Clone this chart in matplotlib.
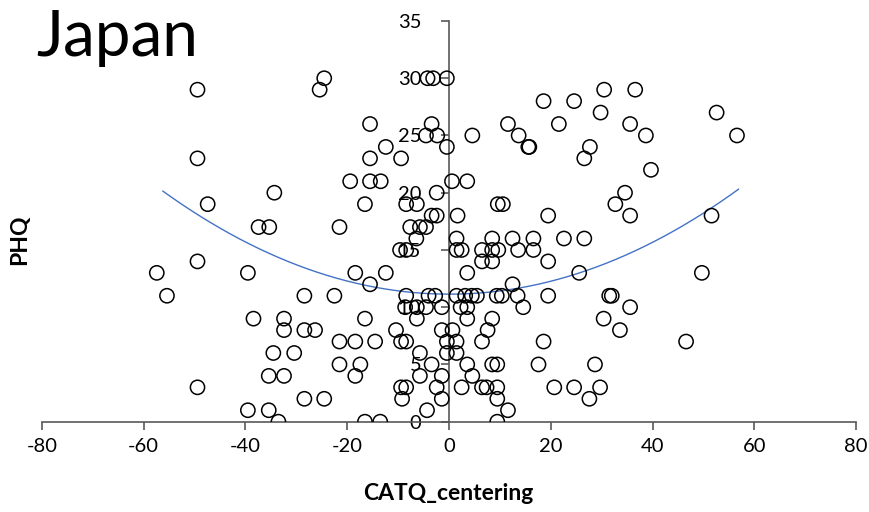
import matplotlib.pyplot as plt
import numpy as np

# CATQ_centering (x) and PHQ (y) values
catq = np.array([
    -57.4, -55.4, -49.4, -49.4, -49.4, -49.4, -47.4, -39.5, -39.5, -38.4,
    -37.4, -35.3, -35.4, -35.4, -34.5, -34.3, -33.5, -32.4, -32.4, -32.4,
    -30.4, -28.4, -28.4, -28.4, -26.3, -25.4, -24.5, -24.5, -22.5, -21.5,
    -21.5, -21.5, -19.4, -18.4, -18.4, -18.4, -17.4, -16.5, -16.5, -16.5,
    -15.5, -15.5, -15.5, -15.5, -14.5, -13.5, -13.4, -12.4, -12.4, -10.4,
    -9.6, -9.4, -9.4, -9.4, -9.2, -8.6, -8.4, -8.4, -8.4, -8.4,
    -8.4, -7.6, -6.4, -6.3, -6.3, -6.3, -5.7, -5.7, -5.7, -4.5,
    -4.5, -4.5, -4.3, -4.2, -4.0, -3.4, -3.4, -3.4, -3.1, -2.7,
    -2.4, -2.4, -2.3, -2.4, -1.4, -1.4, -1.4, -1.4, -0.4, -0.4,
    -0.4, -0.4,
    0.6, 0.7, 1.5, 1.5, 1.5, 1.5, 1.5, 1.7, 2.3, 2.5,
    2.5, 3.2, 3.6, 3.6, 3.6, 3.6, 3.6, 4.5, 4.6, 4.6,
    5.5, 6.5, 6.5, 6.5, 6.5, 7.4, 7.6, 8.5, 8.5, 8.5,
    8.5, 8.5, 9.4, 9.5, 9.5, 9.5, 9.5, 9.6, 9.7, 10.4,
    10.6, 11.6, 11.6, 12.5, 12.5, 13.5, 13.6, 13.7, 14.6, 15.6,
    15.8, 16.6, 16.6, 17.6, 18.6, 18.6, 19.5, 19.5, 19.5, 20.7,
    21.6, 22.6, 24.6, 24.6, 25.6, 26.6, 26.6, 27.6, 27.7, 28.7,
    29.7, 29.8, 30.4, 30.5, 31.5, 32.0, 32.7, 33.6, 34.6, 35.6,
    35.6, 35.6, 36.6, 38.7, 39.7, 46.6, 49.7, 51.6, 52.6, 56.6,
])
phq = np.array([
    13, 11, 29, 23, 14, 3, 19, 13, 1, 9,
    17, 17, 4, 1, 6, 20, 0, 9, 8, 4,
    6, 11, 8, 2, 8, 29, 30, 2, 11, 17,
    7, 5, 21, 13, 7, 4, 5, 19, 9, 0,
    26, 23, 21, 12, 7, 0, 21, 24, 13, 8,
    15, 23, 7, 3, 2, 10, 19, 15, 11, 7,
    3, 17, 16, 19, 10, 9, 17, 6, 4, 25,
    17, 10, 1, 30, 11, 26, 18, 5, 30, 11,
    20, 18, 25, 3, 10, 8, 4, 2, 30, 24,
    7, 6,
    21, 8, 16, 15, 11, 7, 6, 18, 10, 15,
    3, 11, 21, 13, 10, 9, 5, 11, 25, 4,
    11, 15, 14, 7, 3, 3, 8, 16, 15, 14,
    9, 5, 11, 5, 3, 2, 0, 19, 15, 11,
    19, 26, 1, 16, 12, 11, 15, 25, 10, 24,
    24, 16, 15, 5, 28, 7, 18, 14, 11, 3,
    26, 16, 28, 3, 13, 23, 16, 2, 24, 5,
    3, 27, 9, 29, 11, 11, 19, 8, 20, 26,
    18, 10, 29, 25, 22, 7, 13, 18, 27, 25,
])

# polynomial (order 2) trendline coefficients
trend_coef = [0.00284, -0.0005, 11.14]

x_ticks = [-80, -60, -40, -20, 0, 20, 40, 60, 80]
y_ticks = [0, 5, 10, 15, 20, 25, 30, 35]

plt.rcParams['font.family'] = ['Lato', 'DejaVu Sans']
plt.rcParams['axes.unicode_minus'] = False

fig = plt.figure(figsize=(8.7, 5.12), dpi=100)
ax = fig.add_axes([0.048, 0.1764, 0.936, 0.7826])

ax.scatter(catq, phq, s=105, facecolors='none', edgecolors='black',
           linewidths=1.1, zorder=3)

# trend line over the data range
xfit = np.linspace(catq.min() + 1.2, catq.max() + 0.3, 300)
ax.plot(xfit, np.polyval(trend_coef, xfit), color='#4472C4', linewidth=1.0, zorder=2)

ax.set_xlim(-80, 80)
ax.set_ylim(0, 35)
ax.set_xticks(x_ticks)
ax.set_yticks(y_ticks)

ax.spines['left'].set_position(('data', 0))
ax.spines['bottom'].set_position(('data', 0))
ax.spines['top'].set_visible(False)
ax.spines['right'].set_visible(False)
for side in ['left', 'bottom']:
    ax.spines[side].set_color('#595959')
    ax.spines[side].set_linewidth(1.2)

ax.tick_params(axis='both', direction='out', length=6, width=1.2,
               color='#595959', labelsize=14.5, labelcolor='black')
ax.tick_params(axis='x', pad=6)
ax.tick_params(axis='y', pad=14)

fig.text(448 / 870, 19 / 512, 'CATQ_centering', ha='center', va='center',
         fontsize=16.5, fontweight='bold')
fig.text(20 / 870, 1 - 240 / 512, 'PHQ', ha='center', va='center',
         rotation=90, fontsize=16.5, fontweight='bold')
fig.text(36 / 870, 1 - 56 / 512, 'Japan', ha='left', va='baseline',
         fontsize=46)

fig.savefig('out.png', dpi=100)
